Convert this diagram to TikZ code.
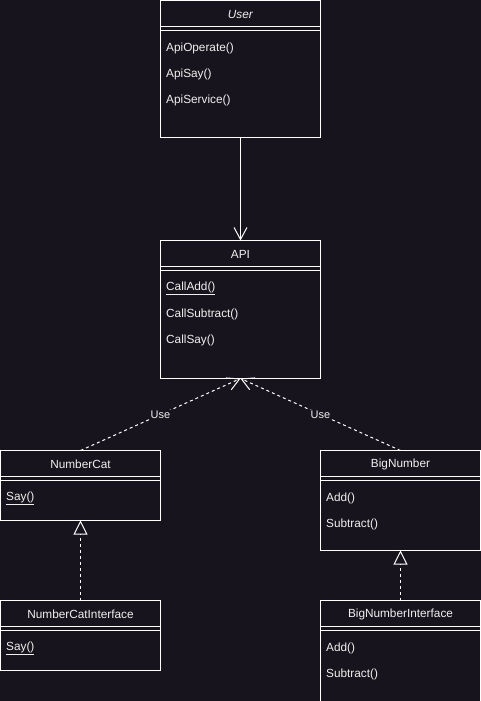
\documentclass[tikz,border=0pt]{standalone}
\usepackage{fontspec}
\setmainfont{Liberation Sans}
\usetikzlibrary{arrows.meta, positioning}
\definecolor{canvasbg}{HTML}{18141D}
\definecolor{umlline}{HTML}{FFFFFF}
\definecolor{umltext}{HTML}{F0F0F0}

\begin{document}
\begin{tikzpicture}[x=1pt, y=-1pt,
    cls/.style={rectangle, draw=umlline, line width=1pt, anchor=north west,
      minimum width=160pt, inner sep=0pt, outer sep=0pt},
    hdr/.style={rectangle, anchor=north, minimum width=160pt, minimum height=26pt,
      inner sep=0pt, outer sep=0pt, text=umltext, font=\fontsize{11.8}{14}\selectfont},
    item/.style={anchor=west, inner sep=0pt, text=umltext, font=\fontsize{11.8}{14}\selectfont},
    sep/.style={draw=umlline, line width=1pt},
    lbl/.style={fill=canvasbg, inner sep=1pt, text=umltext, font=\fontsize{11}{13}\selectfont},
    arr/.style={-{Straight Barb[length=12pt, width=13pt]}, draw=umlline, line width=1pt},
    use/.style={arr, dash pattern=on 3pt off 3pt},
    real/.style={-{Triangle[open, length=14pt, width=14pt]}, draw=umlline,
      line width=1pt, dash pattern=on 3pt off 3pt}
  ]
    \useasboundingbox (0,0) rectangle (481,701);
    \fill[canvasbg] (0,0) rectangle (481,701);

    % ── User
    \node[cls, minimum height=137pt] (user) at (160.5,0.5) {};
    \node[hdr, yshift=-1pt] (userhdr) at (user.north) {\textit{User}};
    \draw[sep] ([yshift=1pt]userhdr.south west) -- ([yshift=1pt]userhdr.south east);
    \draw[sep] ([yshift=-3pt]userhdr.south west) -- ([yshift=-3pt]userhdr.south east);
    \node[item] (user1) at (166,48.5) {ApiOperate()};
    \node[item] (user2) at (166,74.5) {ApiSay()};
    \node[item] (user3) at (166,100.5) {ApiService()};

    % ── API
    \node[cls, minimum height=138pt] (api) at (160.5,240.5) {};
    \node[hdr, yshift=-1pt] (apihdr) at (api.north) {API};
    \draw[sep] ([yshift=1pt]apihdr.south west) -- ([yshift=1pt]apihdr.south east);
    \draw[sep] ([yshift=-3pt]apihdr.south west) -- ([yshift=-3pt]apihdr.south east);
    \node[item] (api1) at (166,288.5) {\underline{CallAdd()}};
    \node[item] (api2) at (166,314.5) {CallSubtract()};
    \node[item] (api3) at (166,340.5) {CallSay()};

    % ── NumberCat
    \node[cls, minimum height=70pt] (numcat) at (0.5,450.5) {};
    \node[hdr, yshift=-1pt] (numcathdr) at (numcat.north) {NumberCat};
    \draw[sep] ([yshift=1pt]numcathdr.south west) -- ([yshift=1pt]numcathdr.south east);
    \draw[sep] ([yshift=-3pt]numcathdr.south west) -- ([yshift=-3pt]numcathdr.south east);
    \node[item] (numcat1) at (6,498.5) {\underline{Say()}};

    % ── BigNumber
    \node[cls, minimum height=100pt] (bignum) at (320.5,450.5) {};
    \node[hdr, yshift=-1pt] (bignumhdr) at (bignum.north) {BigNumber};
    \draw[sep] ([yshift=1pt]bignumhdr.south west) -- ([yshift=1pt]bignumhdr.south east);
    \draw[sep] ([yshift=-3pt]bignumhdr.south west) -- ([yshift=-3pt]bignumhdr.south east);
    \node[item] (bignum1) at (326,498.5) {Add()};
    \node[item] (bignum2) at (326,524.5) {Subtract()};

    % ── NumberCatInterface
    \node[cls, minimum height=70pt] (numcatif) at (0.5,600.5) {};
    \node[hdr, yshift=-1pt] (numcatifhdr) at (numcatif.north) {NumberCatInterface};
    \draw[sep] ([yshift=1pt]numcatifhdr.south west) -- ([yshift=1pt]numcatifhdr.south east);
    \draw[sep] ([yshift=-3pt]numcatifhdr.south west) -- ([yshift=-3pt]numcatifhdr.south east);
    \node[item] (numcatif1) at (6,648.5) {\underline{Say()}};

    % ── BigNumberInterface
    \node[cls, minimum height=101pt] (bignumif) at (320.5,600.5) {};
    \node[hdr, yshift=-1pt] (bignumifhdr) at (bignumif.north) {BigNumberInterface};
    \draw[sep] ([yshift=1pt]bignumifhdr.south west) -- ([yshift=1pt]bignumifhdr.south east);
    \draw[sep] ([yshift=-3pt]bignumifhdr.south west) -- ([yshift=-3pt]bignumifhdr.south east);
    \node[item] (bignumif1) at (326,648.5) {Add()};
    \node[item] (bignumif2) at (326,674.5) {Subtract()};

    % ── Arrows
    \draw[arr] (user) -- (api);
    \draw[use] (numcat.north) -- node[lbl] {Use} (api.south);
    \draw[use] (bignum.north) -- node[lbl] {Use} (api.south);
    \draw[real] (numcatif.north) -- (numcat.south);
    \draw[real] (bignumif.north) -- (bignum.south);
  \end{tikzpicture}
\end{document}
